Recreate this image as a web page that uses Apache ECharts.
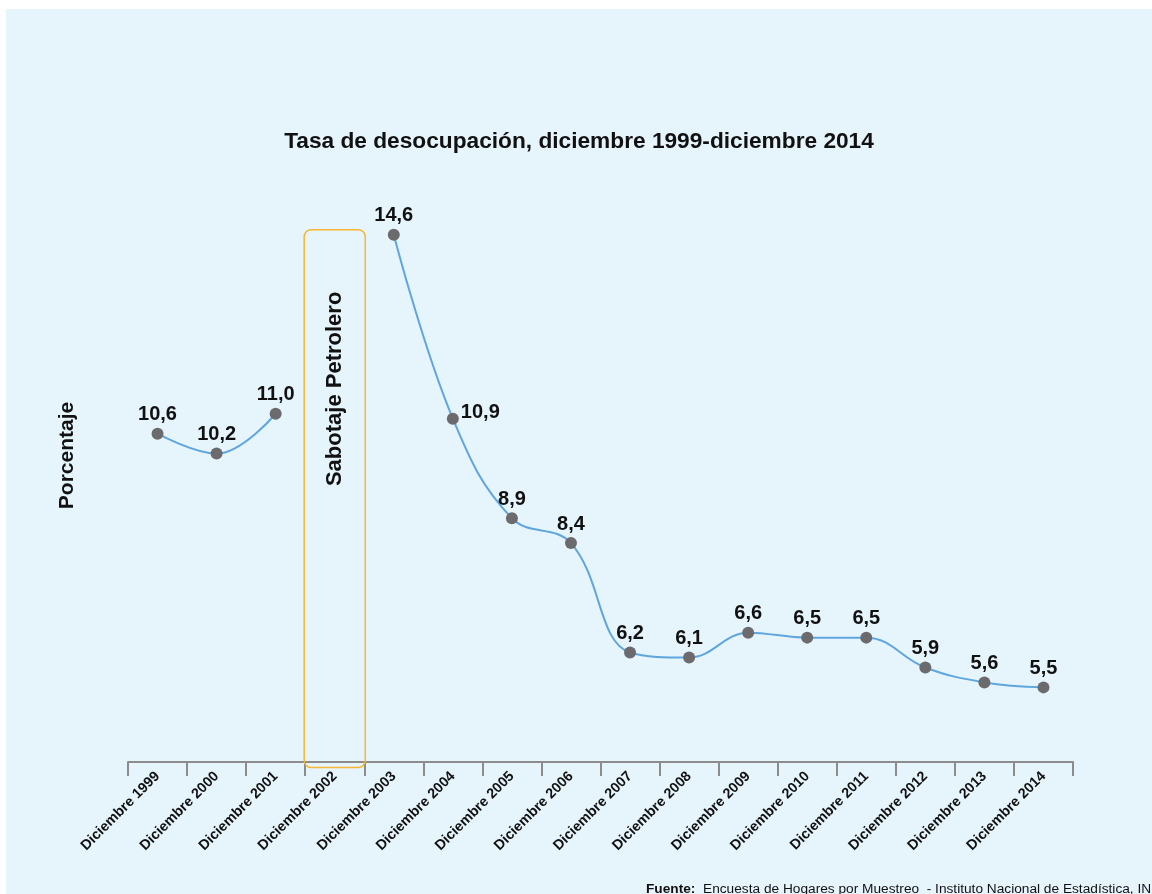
<!DOCTYPE html>
<html>
<head>
<meta charset="utf-8">
<script src="https://cdn.jsdelivr.net/npm/echarts@6/dist/echarts.min.js"></script>
<style>
  html, body { margin: 0; padding: 0; background: #ffffff; }
  #chart { position: absolute; left: 6px; top: 9px; width: 1146px; height: 885px; }
</style>
</head>
<body>
<div id="chart"></div>
<script>
// ---- data ----
const categories = ['Diciembre 1999','Diciembre 2000','Diciembre 2001','Diciembre 2002','Diciembre 2003','Diciembre 2004','Diciembre 2005','Diciembre 2006','Diciembre 2007','Diciembre 2008','Diciembre 2009','Diciembre 2010','Diciembre 2011','Diciembre 2012','Diciembre 2013','Diciembre 2014'];
const unemploymentRate = [10.6, 10.2, 11.0, null, 14.6, 10.9, 8.9, 8.4, 6.2, 6.1, 6.6, 6.5, 6.5, 5.9, 5.6, 5.5];
const rightLabelCategories = ['Diciembre 2004'];
const sabotageCategory = 'Diciembre 2002';
const sabotageText = 'Sabotaje Petrolero';
const sabotageRange = [14.7, 3.89];   // top, bottom of the highlighted box
const sabotageTextAt = 11.5;
const yMin = 4, yMax = 16;

const FONT = "'Liberation Sans', Arial, sans-serif";
const chart = echarts.init(document.getElementById('chart'));

const fmt = v => v.toFixed(1).replace('.', ',');

const lineData = unemploymentRate.map((v, i) => {
  if (v === null) return null;
  const item = { value: v };
  if (rightLabelCategories.indexOf(categories[i]) >= 0) {
    item.label = { position: 'right', distance: 2, offset: [0, -6] };
  }
  return item;
});

chart.setOption({
  backgroundColor: '#e6f4fc',
  title: [{
    text: 'Tasa de desocupación, diciembre 1999-diciembre 2014',
    left: 'center',
    top: 116,
    textStyle: { fontFamily: FONT, fontWeight: 'bold', fontSize: 22.7, color: '#111111' }
  }, {
    text: '{b|Fuente:}  Encuesta de Hogares por Muestreo  - Instituto Nacional de Estadística, INE',
    left: 640,
    top: 873,
    padding: 0,
    textStyle: {
      fontFamily: FONT, fontWeight: 'normal', fontSize: 13.7, color: '#111111',
      rich: { b: { fontFamily: FONT, fontWeight: 'bold', fontSize: 13.7, color: '#111111' } }
    }
  }],
  grid: { left: 122, right: 79, top: 156, height: 597, containLabel: false },
  xAxis: {
    type: 'category',
    data: categories,
    boundaryGap: true,
    axisLine: { show: true, lineStyle: { color: '#8c8c8c', width: 2 } },
    axisTick: { show: true, length: 14, alignWithLabel: false, interval: 0, lineStyle: { color: '#8c8c8c', width: 2 } },
    axisLabel: {
      interval: 0, rotate: 45, margin: 12,
      fontFamily: FONT, fontWeight: 'bold', fontSize: 14.3, color: '#111111'
    },
    splitLine: { show: false }
  },
  yAxis: {
    type: 'value',
    min: yMin, max: yMax,
    name: 'Porcentaje',
    nameLocation: 'middle',
    nameRotate: 90,
    nameGap: 50,
    nameTextStyle: { fontFamily: FONT, fontWeight: 'bold', fontSize: 21, color: '#111111', padding: [0, 0, 0, 16] },
    axisLine: { show: false },
    axisTick: { show: false },
    axisLabel: { show: false },
    splitLine: { show: false }
  },
  series: [{
    type: 'line',
    data: lineData,
    smooth: 0.4,
    connectNulls: false,
    symbol: 'circle',
    symbolSize: 12,
    itemStyle: { color: '#6b6b6e' },
    lineStyle: { color: '#5fa6de', width: 2 },
    label: {
      show: true, position: 'top', distance: 3,
      formatter: p => fmt(p.value),
      fontFamily: FONT, fontWeight: 'bold', fontSize: 20, color: '#111111'
    },
    z: 3
  }, {
    type: 'custom',
    clip: false,
    silent: true,
    data: [[sabotageCategory, sabotageRange[0], sabotageRange[1], sabotageTextAt]],
    encode: { x: 0, y: [1, 2] },
    renderItem: function (params, api) {
      const top = api.coord([api.value(0), api.value(1)]);
      const bottom = api.coord([api.value(0), api.value(2)]);
      const mid = api.coord([api.value(0), api.value(3)]);
      const bw = api.size([1, 0])[0] + 2;
      return {
        type: 'group',
        children: [{
          type: 'rect',
          shape: { x: top[0] - bw / 2, y: top[1], width: bw, height: bottom[1] - top[1], r: 7 },
          style: { fill: 'none', stroke: '#f5b731', lineWidth: 1.5 }
        }, {
          type: 'text',
          x: mid[0], y: mid[1],
          rotation: Math.PI / 2,
          style: {
            text: sabotageText,
            align: 'center', verticalAlign: 'middle',
            font: 'bold 22px ' + FONT,
            fill: '#111111'
          }
        }]
      };
    },
    z: 2
  }]
});
</script>
</body>
</html>
